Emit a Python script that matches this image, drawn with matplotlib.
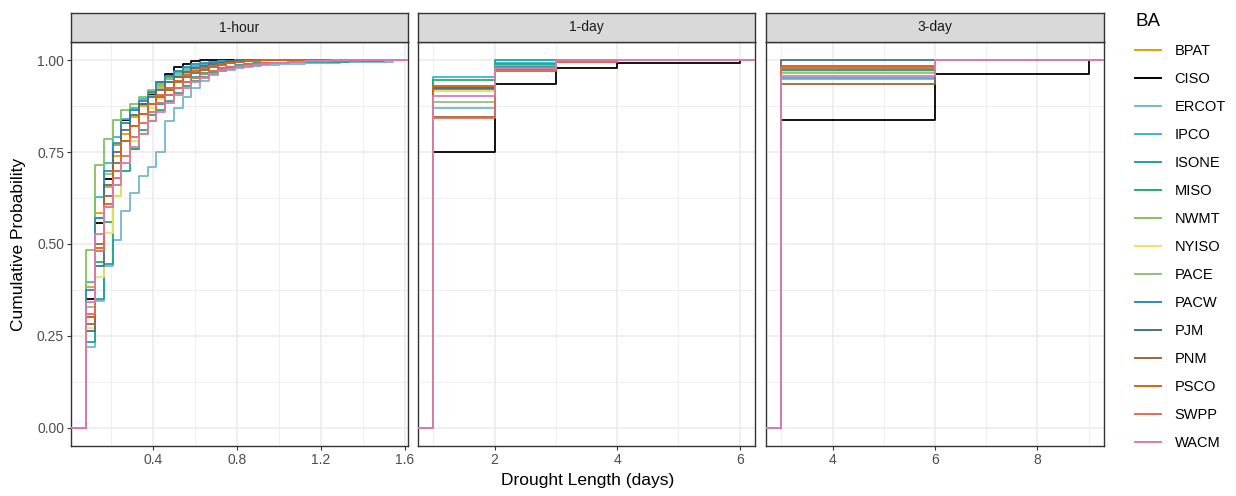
import numpy as np
import matplotlib
matplotlib.use("Agg")
import matplotlib.pyplot as plt
from matplotlib.lines import Line2D
from matplotlib.ticker import MultipleLocator

plt.rcParams['font.family'] = ['Liberation Sans', 'DejaVu Sans']

# ---- data -----------------------------------------------------------------
bas = ["BPAT", "CISO", "ERCOT", "IPCO", "ISONE", "MISO", "NWMT", "NYISO",
       "PACE", "PACW", "PJM", "PNM", "PSCO", "SWPP", "WACM"]
colors = ["#E69F00", "#000000", "#74B8D2", "#3DB5D3", "#1FA39A", "#22AD72",
          "#85C25A", "#F2E55A", "#93C07E", "#2D8EB4", "#43718F", "#9B673A",
          "#D8631D", "#E06B5C", "#D87DB1"]

# 1-hour events: cumulative probability at drought lengths of 2, 3, 4 ... hours
hours = list(range(2, 38))
cdf_hour = {
    "BPAT":  [0.382, 0.584, 0.655, 0.74, 0.80, 0.845, 0.875, 0.905, 0.93, 0.95, 0.965,
              0.975, 0.983, 0.99, 0.994, 0.997, 1.0],
    "CISO":  [0.349, 0.557, 0.678, 0.770, 0.838, 0.864, 0.882, 0.909, 0.941, 0.962, 0.982,
              0.99, 0.997, 1.0],
    "ERCOT": [0.219, 0.345, 0.44, 0.51, 0.59, 0.64, 0.685, 0.71, 0.75, 0.836, 0.87, 0.90,
              0.925, 0.945, 0.96, 0.97, 0.975, 0.98, 0.983, 0.985, 0.987, 0.988, 0.989,
              0.99, 0.991, 0.992, 0.993, 0.994, 0.994, 0.995, 0.995, 0.995, 0.996, 0.996,
              0.996, 1.0],
    "IPCO":  [0.396, 0.628, 0.72, 0.79, 0.84, 0.87, 0.895, 0.915, 0.935, 0.955, 0.968,
              0.978, 0.985, 0.99, 0.994, 0.997, 0.998, 1.0],
    "ISONE": [0.232, 0.35, 0.445, 0.63, 0.70, 0.76, 0.81, 0.85, 0.88, 0.905, 0.925, 0.94,
              0.955, 0.965, 0.972, 0.978, 0.983, 0.987, 0.99, 0.992, 0.993, 0.994, 0.994,
              0.995, 0.995, 0.995, 0.996, 0.996, 0.996, 0.996, 0.997, 0.997, 0.997, 0.997, 1.0],
    "MISO":  [0.30, 0.45, 0.56, 0.66, 0.72, 0.76, 0.80, 0.835, 0.865, 0.89, 0.91, 0.93,
              0.945, 0.955, 0.965, 0.972, 0.978, 0.983, 0.986, 0.988, 0.99, 0.992, 0.993,
              0.995, 0.996, 1.0],
    "NWMT":  [0.484, 0.714, 0.786, 0.838, 0.866, 0.88, 0.90, 0.92, 0.935, 0.95, 0.96,
              0.97, 0.978, 0.985, 0.99, 0.993, 0.996, 1.0],
    "NYISO": [0.271, 0.41, 0.53, 0.63, 0.72, 0.78, 0.83, 0.87, 0.895, 0.92, 0.94, 0.955,
              0.965, 0.975, 0.982, 0.988, 0.992, 0.995, 0.997, 1.0],
    "PACE":  [0.328, 0.57, 0.69, 0.77, 0.83, 0.865, 0.89, 0.91, 0.925, 0.94, 0.955, 0.965,
              0.975, 0.982, 0.988, 0.992, 0.995, 1.0],
    "PACW":  [0.375, 0.57, 0.70, 0.775, 0.83, 0.865, 0.89, 0.915, 0.94, 0.958, 0.972,
              0.982, 0.99, 0.993, 0.995, 0.996, 0.997, 0.998, 1.0],
    "PJM":   [0.264, 0.44, 0.66, 0.75, 0.81, 0.85, 0.88, 0.90, 0.92, 0.94, 0.955, 0.968,
              0.978, 0.985, 0.99, 0.994, 0.997, 1.0],
    "PNM":   [0.281, 0.50, 0.63, 0.72, 0.78, 0.82, 0.855, 0.88, 0.90, 0.92, 0.94, 0.955,
              0.965, 0.975, 0.982, 0.988, 0.992, 0.995, 0.997, 1.0],
    "PSCO":  [0.30, 0.49, 0.61, 0.70, 0.78, 0.82, 0.855, 0.88, 0.905, 0.925, 0.945, 0.96,
              0.97, 0.978, 0.984, 0.989, 0.992, 0.995, 0.997, 0.998, 1.0],
    "SWPP":  [0.31, 0.48, 0.60, 0.68, 0.74, 0.79, 0.83, 0.86, 0.885, 0.905, 0.925, 0.94,
              0.952, 0.962, 0.97, 0.976, 0.981, 0.985, 0.988, 0.99, 0.992, 0.993, 0.994,
              0.995, 0.996, 0.997, 0.997, 0.997, 0.997, 0.997, 0.997, 1.0],
    "WACM":  [0.341, 0.528, 0.60, 0.66, 0.72, 0.765, 0.80, 0.835, 0.86, 0.885, 0.905,
              0.925, 0.94, 0.952, 0.962, 0.97, 0.976, 0.981, 0.985, 0.988, 0.99, 0.992,
              0.994, 0.995, 0.996, 0.997, 0.998, 0.998, 1.0],
}

# 1-day events: cumulative probability at 1, 2, 3, 4, 6 days
days_1d = [1, 2, 3, 4, 6]
cdf_1d = {
    "BPAT":  [0.929, 0.985, 1.0, 1.0, 1.0],
    "CISO":  [0.750, 0.936, 0.979, 0.994, 1.0],
    "ERCOT": [0.870, 0.990, 1.0, 1.0, 1.0],
    "IPCO":  [0.956, 0.994, 1.0, 1.0, 1.0],
    "ISONE": [0.923, 1.0, 1.0, 1.0, 1.0],
    "MISO":  [0.946, 0.990, 1.0, 1.0, 1.0],
    "NWMT":  [0.916, 0.985, 1.0, 1.0, 1.0],
    "NYISO": [0.916, 0.980, 1.0, 1.0, 1.0],
    "PACE":  [0.887, 0.985, 1.0, 1.0, 1.0],
    "PACW":  [0.925, 0.982, 1.0, 1.0, 1.0],
    "PJM":   [0.925, 0.980, 1.0, 1.0, 1.0],
    "PNM":   [0.847, 0.975, 1.0, 1.0, 1.0],
    "PSCO":  [0.929, 0.972, 0.995, 1.0, 1.0],
    "SWPP":  [0.843, 0.975, 0.995, 1.0, 1.0],
    "WACM":  [0.902, 0.980, 1.0, 1.0, 1.0],
}

# 3-day events: cumulative probability at 3, 6, 9 days
days_3d = [3, 6, 9]
cdf_3d = {
    "BPAT":  [0.985, 1.0, 1.0],
    "CISO":  [0.837, 0.964, 1.0],
    "ERCOT": [0.950, 1.0, 1.0],
    "IPCO":  [0.952, 1.0, 1.0],
    "ISONE": [0.974, 1.0, 1.0],
    "MISO":  [0.974, 1.0, 1.0],
    "NWMT":  [0.969, 1.0, 1.0],
    "NYISO": [0.969, 1.0, 1.0],
    "PACE":  [0.966, 1.0, 1.0],
    "PACW":  [0.979, 1.0, 1.0],
    "PJM":   [1.0, 1.0, 1.0],
    "PNM":   [0.936, 1.0, 1.0],
    "PSCO":  [0.985, 1.0, 1.0],
    "SWPP":  [0.979, 1.0, 1.0],
    "WACM":  [0.957, 1.0, 1.0],
}

panel_titles = ["1-hour", "1-day", "3-day"]

# ---- figure ---------------------------------------------------------------
W, H = 1236, 496
fig = plt.figure(figsize=(W / 100, H / 100), dpi=100)

def px_axes(x0, x1, y0, y1):
    # pixel box (top-left origin) -> figure axes
    return fig.add_axes([x0 / W, 1 - y1 / H, (x1 - x0) / W, (y1 - y0) / H])

panel_x = [(71, 408), (418, 755), (766, 1104)]
ptop, pbot = 42, 446
strip_top = 13

grey20 = "#333333"

def ecdf_panel(ax, xs, cdfs, xscale):
    lo, hi = min(xs) * xscale, max(xs) * xscale
    pad = 0.05 * (hi - lo)
    xlim = (lo - pad, hi + pad)
    for ba, col in zip(bas, colors):
        vals = cdfs[ba] + [1.0] * (len(xs) - len(cdfs[ba]))
        xx = [xlim[0]] + [v * xscale for v in xs] + [xlim[1]]
        yy = [0.0] + vals + [1.0]
        ax.step(xx, yy, where="post", color=col, lw=1.3, zorder=3)
    ax.set_xlim(xlim)
    ax.set_ylim(-0.05, 1.05)

axes = []
for i, (x0, x1) in enumerate(panel_x):
    ax = px_axes(x0, x1, ptop, pbot)
    axes.append(ax)
    if i == 0:
        ecdf_panel(ax, hours, cdf_hour, 1 / 24)
        ax.xaxis.set_major_locator(MultipleLocator(0.4))
        ax.xaxis.set_minor_locator(MultipleLocator(0.2))
    elif i == 1:
        ecdf_panel(ax, days_1d, cdf_1d, 1)
        ax.xaxis.set_major_locator(MultipleLocator(2))
        ax.xaxis.set_minor_locator(MultipleLocator(1))
    else:
        ecdf_panel(ax, days_3d, cdf_3d, 1)
        ax.xaxis.set_major_locator(MultipleLocator(2))
        ax.xaxis.set_minor_locator(MultipleLocator(1))
    ax.yaxis.set_major_locator(MultipleLocator(0.25))
    ax.yaxis.set_minor_locator(MultipleLocator(0.125))
    ax.grid(which="major", color="#ebebeb", lw=1.1, zorder=0)
    ax.grid(which="minor", color="#ebebeb", lw=0.55, zorder=0)
    ax.set_axisbelow(True)
    for s in ax.spines.values():
        s.set_color(grey20)
        s.set_linewidth(1.0)
    ax.tick_params(which="major", length=3, width=0.8, color=grey20,
                   labelsize=10, labelcolor="#4d4d4d", pad=2)
    ax.tick_params(which="minor", length=0)
    if i == 0:
        ax.yaxis.set_major_formatter(plt.FuncFormatter(lambda v, p: f"{v:.2f}"))
        ax.xaxis.set_major_formatter(plt.FuncFormatter(lambda v, p: f"{v:g}"))
    else:
        ax.tick_params(axis="y", which="both", left=False, labelleft=False)

    # strip
    sax = px_axes(x0, x1, strip_top, ptop)
    sax.set_facecolor("#d9d9d9")
    sax.set_xticks([])
    sax.set_yticks([])
    for s in sax.spines.values():
        s.set_color(grey20)
        s.set_linewidth(1.0)
    sax.text(0.5, 0.5, panel_titles[i], ha="center", va="center",
             fontsize=10, color="#1a1a1a", transform=sax.transAxes)

fig.text(588 / W, 1 - 481 / H, "Drought Length (days)", ha="center", va="center",
         fontsize=12.5)
fig.text(19 / W, 1 - 244 / H, "Cumulative Probability", ha="center", va="center",
         rotation=90, fontsize=12.5)

handles = [Line2D([0], [0], color=c, lw=1.4) for c in colors]
leg = fig.legend(handles, bas, title="BA", loc="upper left",
                 bbox_to_anchor=(1122 / W, 1 - 0 / H), frameon=False,
                 fontsize=10.5, title_fontsize=13.5, labelspacing=0.96,
                 handlelength=1.75, handletextpad=0.95, alignment="left")

fig.savefig("out.png", dpi=100)
